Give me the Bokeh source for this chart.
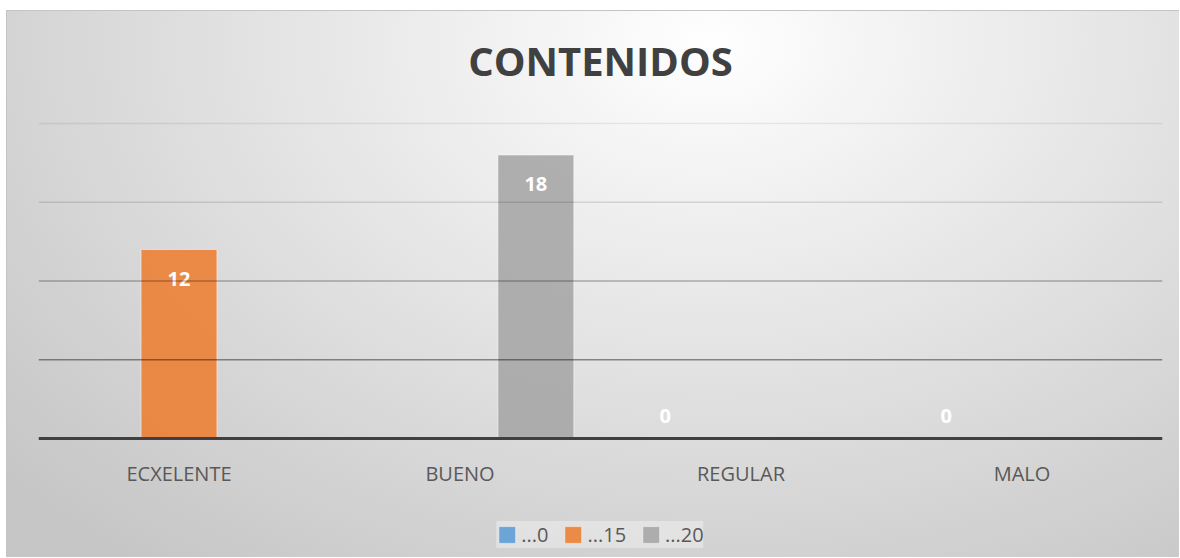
from bokeh.plotting import figure
from bokeh.models import (ColumnDataSource, FactorRange, Range1d, Span, Legend,
                          LegendItem, Label)
from bokeh.transform import dodge
from bokeh.core.properties import value
from bokeh.embed import file_html
from bokeh.resources import INLINE

# ---- data ----
categories = ["ECXELENTE", "BUENO", "REGULAR", "MALO"]
series_names = ["...0", "...15", "...20"]
series_0 = [None, None, 0, 0]
series_15 = [12, None, None, None]
series_20 = [None, 18, None, None]
grid_ticks = [5, 10, 15, 20]
title_text = "CONTENIDOS"

series_values = [series_0, series_15, series_20]
colors = ["#5B9BD5", "#ED7D31", "#A5A5A5"]
bar_w = 0.27
offsets = [-bar_w, 0.0, bar_w]
FONT = "Open Sans"

# layout: the frame fills the whole figure height; 0..20 spans 315 px
FIG_W, FIG_H = 1173, 547
TOP = 112                    # pixels from figure top to the "20" gridline
PX_ABOVE_ZERO = 315          # pixels between 0 and 20
PX_BELOW_ZERO = FIG_H - TOP - PX_ABOVE_ZERO
grid_max = max(grid_ticks)
px_per_unit = PX_ABOVE_ZERO / grid_max
y_min = -PX_BELOW_ZERO / px_per_unit
y_top = grid_max + TOP / px_per_unit

p = figure(x_range=FactorRange(factors=categories, range_padding=0),
           y_range=Range1d(y_min, y_top),
           width=FIG_W, height=FIG_H,
           output_backend="svg", toolbar_location=None,
           min_border_left=31, min_border_right=18,
           min_border_top=0, min_border_bottom=0)

p.background_fill_color = None
p.border_fill_color = None
p.outline_line_color = None
p.styles = {
    "background": "radial-gradient(ellipse 80% 120% at 60% 6%, #ffffff 0%, #f4f4f4 18%, #e2e2e2 50%, #d2d2d2 78%, #c6c6c6 100%)",
    "border-left": "1px solid #c4c4c4",
    "border-top": "1px solid #c4c4c4",
    "margin-left": "6px",
    "margin-top": "10px",
}

# title, drawn above the top gridline
p.add_layout(Label(x=len(categories) / 2, y=grid_max + 63 / px_per_unit,
                   text=title_text, text_align="center",
                   text_baseline="alphabetic", text_font=FONT,
                   text_font_size="40px", text_font_style="bold",
                   text_color="#404040"))

p.xgrid.grid_line_color = None
p.ygrid.grid_line_color = None
p.xaxis.visible = False
p.yaxis.visible = False

alphas = [0.42, 0.28, 0.12, 0.07]
for t, a in zip(grid_ticks, alphas):
    p.add_layout(Span(location=t, dimension="width", line_color="#000000",
                      line_alpha=a, line_width=1.5))

items = []
for name, vals, col, off in zip(series_names, series_values, colors, offsets):
    cats = [c for c, v in zip(categories, vals) if v is not None]
    tops = [v for v in vals if v is not None]
    src = ColumnDataSource(dict(
        cat=cats, top=tops, lbl=[str(v) for v in tops],
        yoff=[29 if v > 0 else -23 for v in tops]))
    r = p.vbar(x=dodge("cat", off, range=p.x_range), top="top", bottom=0,
               width=bar_w, source=src, fill_color=col, fill_alpha=0.88,
               line_color="#ffffff", line_alpha=0.5, line_width=1)
    p.text(x=dodge("cat", off, range=p.x_range), y="top", text="lbl",
           y_offset="yoff", source=src, text_align="center",
           text_baseline="middle", text_color="#ffffff",
           text_font=value(FONT), text_font_style="bold",
           text_font_size="20px")
    items.append(LegendItem(label=name, renderers=[r]))

# baseline (category axis line)
p.add_layout(Span(location=0, dimension="width", line_color="#404040",
                  line_width=3))

# category labels under the baseline
cat_src = ColumnDataSource(dict(cat=categories, y=[0] * len(categories)))
p.text(x="cat", y="y", text="cat", source=cat_src, y_offset=35,
       text_align="center", text_baseline="middle", text_color="#595959",
       text_font=value(FONT), text_font_size="20px")

legend = Legend(items=items, orientation="horizontal",
                location="bottom_center",
                label_text_font=FONT, label_text_font_size="20px",
                label_text_color="#595959", glyph_width=21, glyph_height=21,
                spacing=14, padding=12, margin=10,
                background_fill_color="#ffffff", background_fill_alpha=0.35,
                border_line_color=None, label_standoff=4)
p.add_layout(legend, "center")

open("out.html", "w").write(file_html(p, INLINE))
